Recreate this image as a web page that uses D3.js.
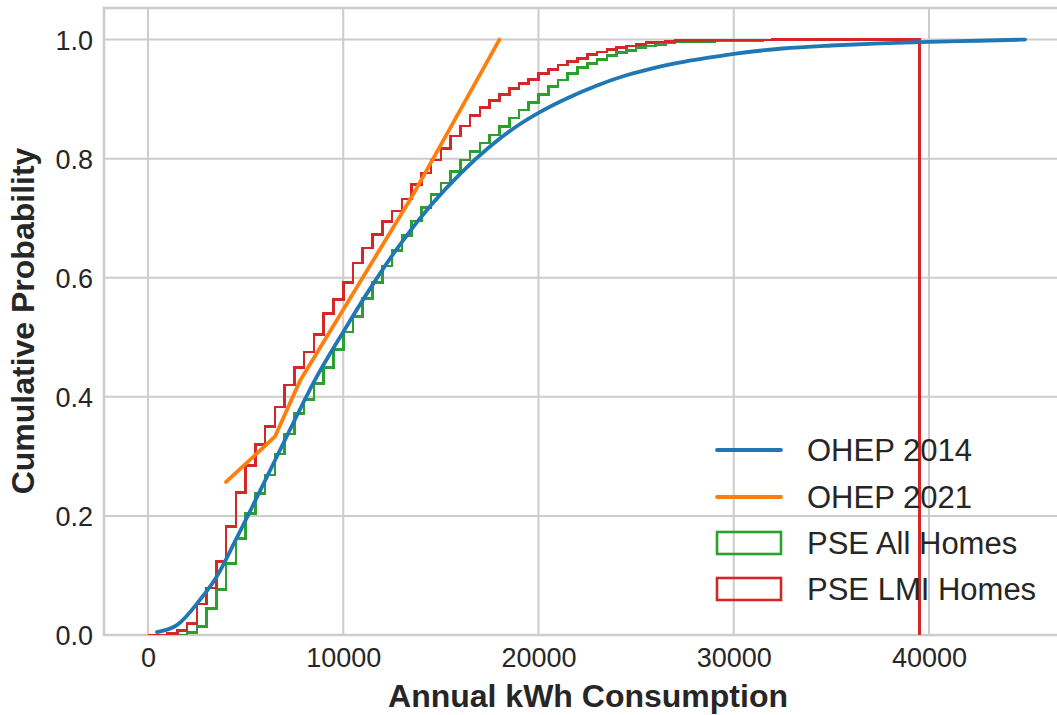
<!DOCTYPE html>
<html>
<head>
<meta charset="utf-8">
<script src="https://cdn.jsdelivr.net/npm/d3@7"></script>
<style>
  html, body { margin: 0; padding: 0; background: #ffffff; }
  svg { display: block; font-family: "Liberation Sans", Arial, sans-serif; }
</style>
</head>
<body>
<svg id="chart" width="1057" height="715"></svg>
<script>
// ---------------- data ----------------
const xTicks = [0, 10000, 20000, 30000, 40000];
const yTicks = [0.0, 0.2, 0.4, 0.6, 0.8, 1.0];
const yTickLabels = ["0.0", "0.2", "0.4", "0.6", "0.8", "1.0"];

// OHEP 2014 (smooth CDF)
const ohep2014X = [460, 1500, 2660, 3500, 4500, 5500, 6500, 7500, 8500, 10000, 11500, 13000, 14500, 16000, 17500, 19000, 20000, 21500, 23000, 24500, 26000, 27500, 29000, 30000, 32500, 35000, 37500, 40000, 42500, 44920];
const ohep2014Y = [0.005, 0.017, 0.059, 0.097, 0.160, 0.226, 0.293, 0.360, 0.425, 0.509, 0.588, 0.660, 0.722, 0.775, 0.820, 0.857, 0.877, 0.902, 0.923, 0.940, 0.953, 0.963, 0.971, 0.976, 0.985, 0.990, 0.9935, 0.996, 0.998, 1.0];

// OHEP 2021 (polyline)
const ohep2021X = [4000, 6500, 7800, 13500, 18000];
const ohep2021Y = [0.257, 0.333, 0.428, 0.735, 1.0];

// PSE histograms: bin edges 0..39500 step 500
const pseBinStart = 0;
const pseBinWidth = 500;
const pseAllHomes = [0, 0, 0, 0, 0.004, 0.014, 0.045, 0.076, 0.120, 0.162,
  0.204, 0.238, 0.269, 0.304, 0.3375, 0.372, 0.396, 0.4225, 0.449, 0.479,
  0.509, 0.535, 0.565, 0.592, 0.620, 0.646, 0.671, 0.695, 0.718, 0.740,
  0.759, 0.778, 0.798, 0.812, 0.826, 0.840, 0.854, 0.868, 0.882, 0.894,
  0.908, 0.921, 0.932, 0.943, 0.953, 0.960, 0.967, 0.973, 0.978, 0.982,
  0.987, 0.989, 0.992, 0.995, 0.996, 0.997, 0.997, 0.997, 0.998, 0.998,
  0.998, 0.998, 0.998, 0.999, 0.999, 1, 1, 1, 1, 1,
  1, 1, 1, 1, 1, 1, 1, 1, 1];
const pseLmiHomes = [0, 0, 0.003, 0.008, 0.019, 0.052, 0.079, 0.123, 0.182, 0.239,
  0.285, 0.320, 0.350, 0.383, 0.420, 0.449, 0.475, 0.505, 0.540, 0.563,
  0.592, 0.625, 0.650, 0.673, 0.694, 0.712, 0.732, 0.757, 0.776, 0.798,
  0.817, 0.838, 0.855, 0.872, 0.886, 0.898, 0.908, 0.918, 0.926, 0.933,
  0.943, 0.950, 0.957, 0.963, 0.968, 0.975, 0.979, 0.983, 0.987, 0.989,
  0.992, 0.995, 0.996, 0.997, 0.998, 0.998, 0.998, 0.998, 0.999, 0.999,
  0.999, 0.999, 0.999, 0.999, 1, 1, 1, 1, 1, 1,
  1, 1, 1, 1, 1, 1, 1, 1, 1];

const legendLabels = ["OHEP 2014", "OHEP 2021", "PSE All Homes", "PSE LMI Homes"];
const colors = { blue: "#1f77b4", orange: "#ff7f0e", green: "#2ca02c", red: "#d62728" };

// ---------------- layout ----------------
const svg = d3.select("#chart");
const plot = { left: 104, top: 8, right: 1062, bottom: 635 };
const x = d3.scaleLinear().domain([-2253, 46812]).range([plot.left, plot.right]);
const y = d3.scaleLinear().domain([0, 1.053]).range([plot.bottom, plot.top]);
const textColor = "#262626";
const gridColor = "#cccccc";

svg.append("defs").append("clipPath").attr("id", "clip")
  .append("rect").attr("x", plot.left).attr("y", plot.top)
  .attr("width", plot.right - plot.left).attr("height", plot.bottom - plot.top);

// grid
const grid = svg.append("g");
grid.selectAll("line.gx").data(xTicks).enter().append("line")
  .attr("x1", d => x(d)).attr("x2", d => x(d))
  .attr("y1", plot.top).attr("y2", plot.bottom)
  .attr("stroke", gridColor).attr("stroke-width", 2);
grid.selectAll("line.gy").data(yTicks).enter().append("line")
  .attr("x1", plot.left).attr("x2", plot.right)
  .attr("y1", d => y(d)).attr("y2", d => y(d))
  .attr("stroke", gridColor).attr("stroke-width", 2);

// frame
svg.append("rect").attr("x", plot.left).attr("y", plot.top)
  .attr("width", plot.right - plot.left).attr("height", plot.bottom - plot.top)
  .attr("fill", "none").attr("stroke", gridColor).attr("stroke-width", 2.5);

// axes (tick labels via d3 axes)
const xAxis = d3.axisBottom(x).tickValues(xTicks).tickFormat(d3.format("d")).tickSize(0).tickPadding(0);
const gx = svg.append("g").attr("transform", `translate(0, ${plot.bottom})`).call(xAxis);
gx.select(".domain").remove();
gx.selectAll("text").attr("font-size", 27).attr("fill", textColor)
  .attr("font-family", '"Liberation Sans", Arial, sans-serif')
  .attr("dy", null).attr("y", 32);

const yAxis = d3.axisLeft(y).tickValues(yTicks).tickFormat((d, i) => yTickLabels[i]).tickSize(0).tickPadding(0);
const gy = svg.append("g").attr("transform", `translate(${plot.left}, 0)`).call(yAxis);
gy.select(".domain").remove();
gy.selectAll("text").attr("font-size", 27).attr("fill", textColor)
  .attr("font-family", '"Liberation Sans", Arial, sans-serif')
  .attr("x", -11).attr("dy", "0.35em");

// axis titles
svg.append("text").attr("x", 588).attr("y", 707)
  .attr("text-anchor", "middle").attr("font-size", 32).attr("font-weight", "bold")
  .attr("fill", textColor).text("Annual kWh Consumption");
svg.append("text").attr("transform", `translate(34, 321) rotate(-90)`)
  .attr("text-anchor", "middle").attr("font-size", 32).attr("font-weight", "bold")
  .attr("fill", textColor).text("Cumulative Probability");

// ---------------- marks ----------------
const marks = svg.append("g").attr("clip-path", "url(#clip)");

function stepPoints(values) {
  const pts = [];
  pts.push([pseBinStart, 0]);
  values.forEach((v, i) => {
    const a = pseBinStart + i * pseBinWidth;
    const b = a + pseBinWidth;
    pts.push([a, v]);
    pts.push([b, v]);
  });
  pts.push([pseBinStart + values.length * pseBinWidth, 0]);
  return pts;
}
const line = d3.line().x(d => x(d[0])).y(d => y(d[1]));
const smooth = d3.line().x(d => x(d[0])).y(d => y(d[1])).curve(d3.curveMonotoneX);

marks.append("path").datum(stepPoints(pseAllHomes))
  .attr("d", line).attr("fill", "none").attr("stroke", colors.green)
  .attr("stroke-width", 2.6).attr("stroke-linejoin", "miter").attr("shape-rendering", "crispEdges");
marks.append("path").datum(stepPoints(pseLmiHomes))
  .attr("d", line).attr("fill", "none").attr("stroke", colors.red)
  .attr("stroke-width", 2.6).attr("stroke-linejoin", "miter").attr("shape-rendering", "crispEdges");

marks.append("path").datum(ohep2014X.map((v, i) => [v, ohep2014Y[i]]))
  .attr("d", smooth).attr("fill", "none").attr("stroke", colors.blue)
  .attr("stroke-width", 3.8).attr("stroke-linecap", "round").attr("stroke-linejoin", "round");
marks.append("path").datum(ohep2021X.map((v, i) => [v, ohep2021Y[i]]))
  .attr("d", line).attr("fill", "none").attr("stroke", colors.orange)
  .attr("stroke-width", 3.8).attr("stroke-linecap", "round").attr("stroke-linejoin", "round");

// ---------------- legend ----------------
const legend = svg.append("g");
const rowY = [450, 497, 543, 589];
const legendColors = [colors.blue, colors.orange, colors.green, colors.red];
legendLabels.forEach((lab, i) => {
  if (i < 2) {
    legend.append("line").attr("x1", 717).attr("x2", 781)
      .attr("y1", rowY[i]).attr("y2", rowY[i])
      .attr("stroke", legendColors[i]).attr("stroke-width", 3.8).attr("stroke-linecap", "round");
  } else {
    legend.append("rect").attr("x", 717).attr("y", rowY[i] - 11)
      .attr("width", 64).attr("height", 22)
      .attr("fill", "none").attr("stroke", legendColors[i]).attr("stroke-width", 2.6);
  }
  legend.append("text").attr("x", 807).attr("y", rowY[i] + 11)
    .attr("font-size", 31).attr("fill", textColor).text(lab);
});
</script>
</body>
</html>
